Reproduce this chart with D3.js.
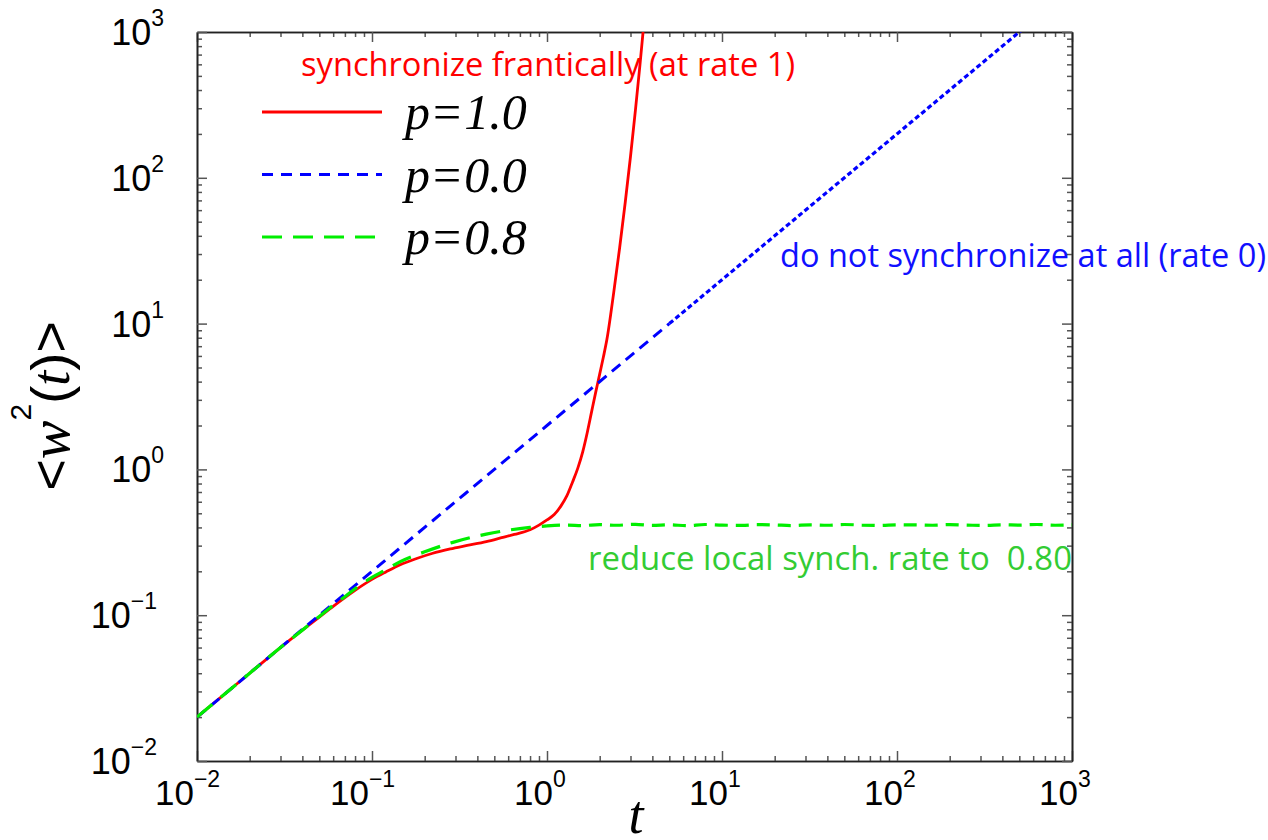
<!DOCTYPE html>
<html>
<head>
<meta charset="utf-8">
<script src="https://cdn.jsdelivr.net/npm/d3@7"></script>
<style>
body{margin:0;background:#fff}
svg{display:block}
</style>
</head>
<body>
<div id="chart"></div>
<script>
// p = 1.0 : synchronize at every step
var redT = [0.01,0.02,0.03,0.04,0.05,0.06,0.07,0.08,0.1,0.12,0.145,0.18,0.22,0.28,0.35,0.45,0.55,0.65,0.8,0.9,
            1.0,1.1,1.2,1.3,1.4,1.5,1.6,1.7,1.8,1.9,2.0,2.1,2.2,2.4,2.6,2.8,3.0,3.2,3.4,3.6]
var redW = [0.02,0.04,0.06,0.079,0.097,0.115,0.132,0.148,0.176,0.198,0.222,0.245,0.265,0.285,0.301,0.32,0.34,0.358,0.385,0.415,
            0.45,0.49,0.56,0.66,0.82,1.02,1.32,1.8,2.5,3.4,4.5,5.9,7.8,16,33,68,140,290,600,1240]
// p = 0.0 : no synchronization
var blueT = [0.01,0.1,1,5,10,100,1000]
var blueW = [0.02,0.2,2,10,20,200,2000]
// p = 0.8
var greenT = [0.01,0.02,0.03,0.04,0.05,0.06,0.07,0.08,0.1,0.12,0.145,0.2,0.29,0.45,0.6,0.8,1.0,
              1.3,1.6,2,2.5,3.2,4,5,6.3,8,10,13,16,20,25,32,40,50,63,80,100,130,160,200,250,320,400,500,630,800,1000]
var greenW = [0.02,0.04,0.06,0.079,0.098,0.117,0.134,0.152,0.182,0.205,0.233,0.272,0.316,0.36,0.383,0.4,0.41,
              0.415,0.412,0.418,0.414,0.42,0.413,0.417,0.411,0.419,0.415,0.413,0.418,0.416,0.412,0.417,0.414,0.419,0.415,
              0.413,0.417,0.416,0.414,0.418,0.415,0.413,0.417,0.415,0.419,0.414,0.416]

var majorTicks = [1e-2,1e-1,1e0,1e1,1e2,1e3]
var tickExponents = ["\u22122","\u22121","0","1","2","3"]
var legendValues = ["1.0","0.0","0.8"]
var legendColors = ["#ff0000","#0000ff","#00ee00"]
var notes = ["synchronize frantically (at rate 1)","do not synchronize at all (rate 0)","reduce local synch. rate to \u00a00.80"]

var width = 1268, height = 840
var svg = d3.select("#chart").append("svg").attr("width",width).attr("height",height)

var x = d3.scaleLog().domain([1e-2,1e3]).range([197,1072])
var y = d3.scaleLog().domain([1e-2,1e3]).range([761,32])

var minorX = x.ticks().filter(function(v){ return Math.abs(Math.log10(v)-Math.round(Math.log10(v)))>1e-6 })
var minorY = y.ticks().filter(function(v){ return Math.abs(Math.log10(v)-Math.round(Math.log10(v)))>1e-6 })

function drawAxis(axis,tx,ty){
    var g = svg.append("g").attr("transform","translate("+tx+","+ty+")").call(axis)
    g.select(".domain").attr("stroke","#222").attr("stroke-width",1.6)
    g.selectAll(".tick line").attr("stroke","#555").attr("stroke-width",1.5)
    return g
}
// minor ticks, all four sides, pointing inward
drawAxis(d3.axisBottom(x).tickValues(minorX).tickSize(-5).tickSizeOuter(0).tickFormat(""),0,761)
drawAxis(d3.axisTop(x).tickValues(minorX).tickSize(-5).tickSizeOuter(0).tickFormat(""),0,32)
drawAxis(d3.axisLeft(y).tickValues(minorY).tickSize(-5).tickSizeOuter(0).tickFormat(""),197,0)
drawAxis(d3.axisRight(y).tickValues(minorY).tickSize(-5).tickSizeOuter(0).tickFormat(""),1072,0)
// major ticks
drawAxis(d3.axisBottom(x).tickValues(majorTicks).tickSize(-10).tickSizeOuter(0).tickFormat(""),0,761)
drawAxis(d3.axisTop(x).tickValues(majorTicks).tickSize(-10).tickSizeOuter(0).tickFormat(""),0,32)
drawAxis(d3.axisLeft(y).tickValues(majorTicks).tickSize(-10).tickSizeOuter(0).tickFormat(""),197,0)
drawAxis(d3.axisRight(y).tickValues(majorTicks).tickSize(-10).tickSizeOuter(0).tickFormat(""),1072,0)

// tick labels 10^k
var tickFont = "'Liberation Sans', Arial, sans-serif"
svg.selectAll(".xlab").data(majorTicks).enter().append("text")
    .attr("class","xlab")
    .attr("x",function(d,i){ return x(d) - (tickExponents[i][0]=="\u2212" ? 42 : 33) })
    .attr("y",805)
    .attr("font-family",tickFont).attr("font-size",35)
    .each(function(d,i){
        var t = d3.select(this)
        t.append("tspan").text("10")
        t.append("tspan").attr("dy",-18).attr("font-size",23).text(tickExponents[i])
    })
svg.selectAll(".ylab").data(majorTicks).enter().append("text")
    .attr("class","ylab")
    .attr("x",function(d,i){ return tickExponents[i][0]=="\u2212" ? 157 : 164 })
    .attr("y",function(d){ return y(d)+13 })
    .attr("text-anchor","end")
    .attr("font-family",tickFont).attr("font-size",36)
    .each(function(d,i){
        var t = d3.select(this)
        t.append("tspan").text("10")
        t.append("tspan").attr("dy",-19).attr("font-size",23).text(tickExponents[i])
    })

// axis titles
var serif = "'Liberation Serif','Times New Roman',serif"
var ytitle = svg.append("text")
    .attr("transform","translate(69,406) rotate(-90)")
    .attr("text-anchor","middle")
    .attr("font-family",tickFont).attr("font-size",54)
ytitle.append("tspan").text("<")
ytitle.append("tspan").attr("font-family",serif).attr("font-style","italic").attr("font-size",58).text("w")
ytitle.append("tspan").attr("font-size",30).attr("dy",-38).text("2")
ytitle.append("tspan").attr("dy",38).text("(")
ytitle.append("tspan").attr("font-family",serif).attr("font-style","italic").text("t")
ytitle.append("tspan").text(")>")

svg.append("text").attr("x",636).attr("y",833).attr("text-anchor","middle")
    .attr("font-family",serif).attr("font-style","italic").attr("font-size",54).text("t")

// data lines
svg.append("clipPath").attr("id","plotClip").append("rect")
    .attr("x",197).attr("y",32).attr("width",875).attr("height",729)

function toPoints(ts,ws){ return ts.map(function(t,i){ return [t,ws[i]] }) }
var line = d3.line().x(function(d){ return x(d[0]) }).y(function(d){ return y(d[1]) }).curve(d3.curveMonotoneX)
var plot = svg.append("g").attr("clip-path","url(#plotClip)")

var redPts = toPoints(redT,redW)
var bluePts = toPoints(blueT,blueW)
var greenPts = toPoints(greenT,greenW)

plot.append("path").datum(redPts).attr("d",line)
    .attr("fill","none").attr("stroke","#ff0000").attr("stroke-width",2.8)
plot.append("path").datum(bluePts.filter(function(d){ return d[0]<=5 })).attr("d",line)
    .attr("fill","none").attr("stroke","#0000ff").attr("stroke-width",3).attr("stroke-dasharray","11,7")
plot.append("path").datum(bluePts.filter(function(d){ return d[0]>=5 })).attr("d",line)
    .attr("fill","none").attr("stroke","#0000ff").attr("stroke-width",3.2).attr("stroke-dasharray","5,3")
plot.append("path").datum(greenPts.filter(function(d){ return d[0]<=1 })).attr("d",line)
    .attr("fill","none").attr("stroke","#00ee00").attr("stroke-width",3.2).attr("stroke-dasharray","20,11")
plot.append("path").datum(greenPts.filter(function(d){ return d[0]>=1 })).attr("d",line)
    .attr("fill","none").attr("stroke","#00ee00").attr("stroke-width",3.2).attr("stroke-dasharray","13,8")

// legend
var legendDash = [null,"11,8","20,11"]
var legend = svg.selectAll(".leg").data(legendValues).enter().append("g").attr("class","leg")
    .attr("transform",function(d,i){ return "translate(0,"+(112+i*62.5)+")" })
legend.append("line").attr("x1",262).attr("x2",382).attr("y1",0).attr("y2",0)
    .attr("stroke",function(d,i){ return legendColors[i] })
    .attr("stroke-width",3)
    .attr("stroke-dasharray",function(d,i){ return legendDash[i] })
legend.append("text").attr("x",405).attr("y",17)
    .attr("font-family",serif).attr("font-size",50)
    .each(function(d){
        var t = d3.select(this)
        t.append("tspan").attr("font-style","italic").text("p")
        t.append("tspan").attr("dx",3).text("=")
        t.append("tspan").attr("dx",3).attr("font-style","italic").text(d)
    })

// annotations
var noteFont = "'Open Sans','Noto Sans',sans-serif"
var notePos = [[301,76],[780,267],[588,570]]
var noteLen = [494,486,484]
var noteColors = ["#ff0000","#1010ff","#33cc33"]
svg.selectAll(".note").data(notes).enter().append("text").attr("class","note")
    .attr("x",function(d,i){ return notePos[i][0] })
    .attr("y",function(d,i){ return notePos[i][1] })
    .attr("font-family",noteFont).attr("font-size",32.5)
    .attr("textLength",function(d,i){ return noteLen[i] })
    .attr("lengthAdjust","spacingAndGlyphs")
    .attr("fill",function(d,i){ return noteColors[i] })
    .text(function(d){ return d })
</script>
</body>
</html>
